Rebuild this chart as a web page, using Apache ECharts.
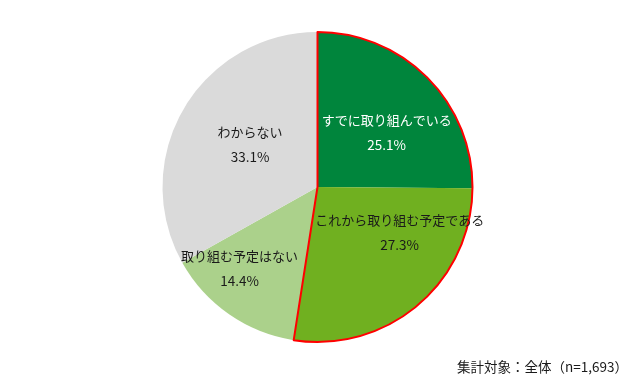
<!DOCTYPE html>
<html>
<head>
<meta charset="utf-8">
<script src="https://cdn.jsdelivr.net/npm/echarts@6/dist/echarts.min.js"></script>
<style>html,body{margin:0;padding:0;background:#fff;}#c{width:643px;height:378px;}</style>
</head>
<body>
<div id="c"></div>
<script>
var categories = ['すでに取り組んでいる', 'これから取り組む予定である', '取り組む予定はない', 'わからない'];
var values = [25.1, 27.3, 14.4, 33.1];
var colors = ['#00853C', '#70B020', '#ABD18B', '#DADADA'];
var labelColors = ['#ffffff', '#1a1a1a', '#1a1a1a', '#1a1a1a'];
var highlighted = [0, 1];
var footnote = '集計対象：全体（n=1,693）';

var labelOffsets = [[12, 2], [30, -16], [-32, 15], [2, -2]];
var font = '"Noto Sans CJK JP", "Noto Sans", sans-serif';

var chart = echarts.init(document.getElementById('c'), null, {renderer: 'canvas'});

var mainData = categories.map(function (n, i) {
  return {
    name: n,
    value: values[i],
    itemStyle: {color: colors[i]},
    label: {
      offset: labelOffsets[i],
      color: labelColors[i],
      rich: {
        n: {color: labelColors[i], fontSize: 13, fontFamily: font, lineHeight: 25},
        p: {color: labelColors[i], fontSize: 13.5, fontFamily: font, lineHeight: 25}
      }
    }
  };
});

var hiSum = 0, restSum = 0;
values.forEach(function (v, i) { if (highlighted.indexOf(i) >= 0) hiSum += v; else restSum += v; });

chart.setOption({
  animation: false,
  backgroundColor: '#fff',
  title: {
    text: footnote,
    right: 10, bottom: -1,
    textStyle: {fontSize: 13.5, fontWeight: 'normal', color: '#1a1a1a', fontFamily: font}
  },
  series: [{
    type: 'pie',
    center: [317.5, 187],
    radius: 155,
    startAngle: 90,
    clockwise: true,
    label: {
      show: true,
      position: 'inside',
      formatter: function (p) { return '{n|' + p.name + '}\n{p|' + p.value.toFixed(1) + '%}'; }
    },
    labelLine: {show: false},
    itemStyle: {borderWidth: 0},
    emphasis: {disabled: true},
    data: mainData
  }, {
    type: 'pie',
    silent: true,
    center: [317.5, 187],
    radius: 155,
    startAngle: 90,
    clockwise: true,
    label: {show: false},
    labelLine: {show: false},
    emphasis: {disabled: true},
    data: [
      {value: hiSum, itemStyle: {color: 'rgba(0,0,0,0)', borderColor: '#FF0000', borderWidth: 2}},
      {value: restSum, itemStyle: {color: 'rgba(0,0,0,0)', borderWidth: 0}}
    ]
  }]
});
</script>
</body>
</html>
